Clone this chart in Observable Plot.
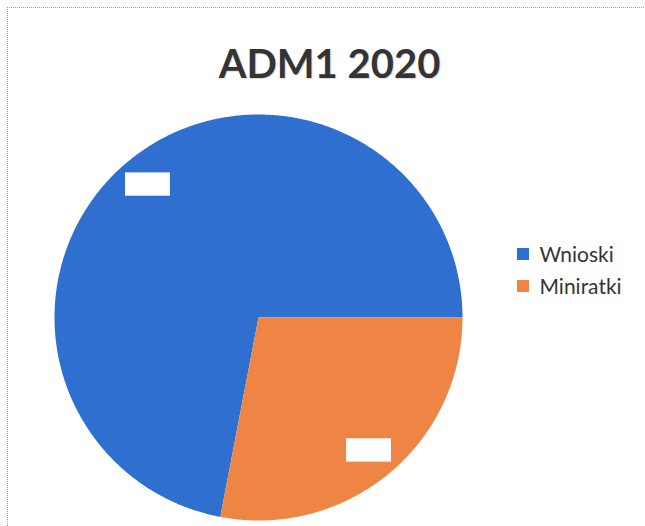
<!DOCTYPE html>
<html><head><meta charset="utf-8">
<script src="https://cdn.jsdelivr.net/npm/d3@7"></script>
<script src="https://cdn.jsdelivr.net/npm/@observablehq/plot@0.6"></script>
<style>
html,body{margin:0;padding:0;background:#fff;}
#wrap{position:relative;width:645px;height:526px;overflow:hidden;background:#fff;font-family:Lato,sans-serif;}
#frame{position:absolute;left:7px;top:7px;width:700px;height:600px;border-left:1px dotted #a0a0a0;border-top:1px dotted #a0a0a0;}
#title{position:absolute;left:7px;width:645px;top:43px;text-align:center;font:700 40px/1 Lato,sans-serif;color:#343434;text-shadow:1px 1px 1px rgba(0,0,0,0.15);}
#chart{position:absolute;left:0;top:0;}
#legend{position:absolute;left:517px;top:241px;width:125px;}
</style>
</head><body>
<div id="wrap">
  <div id="frame"></div>
  <div id="chart"></div>
  <div id="title">ADM1 2020</div>
  <div id="legend"></div>
</div>
<script>
const categories = ["Wnioski", "Miniratki"];
const values = [72, 28];
const colors = ["#2e6fd0", "#ef8544"];
const firstSliceAngle = 190.8; // degrees, clockwise from 12 o'clock

const a0 = firstSliceAngle * Math.PI / 180;
const pie = d3.pie().sort(null).startAngle(a0).endAngle(a0 + 2 * Math.PI);
const arcs = pie(values);

const pts = [];
arcs.forEach((a, i) => {
  const n = Math.ceil((a.endAngle - a.startAngle) / (Math.PI / 360));
  pts.push({name: categories[i], x: 0, y: 0});
  for (let k = 0; k <= n; k++) {
    const t = a.startAngle + (a.endAngle - a.startAngle) * k / n;
    pts.push({name: categories[i], x: Math.sin(t), y: -Math.cos(t)});
  }
});

const labelW = 0.22, labelH = 0.115, labelR = 0.85;
const labels = arcs.map((a, i) => {
  const m = (a.startAngle + a.endAngle) / 2;
  const cx = labelR * Math.sin(m), cy = -labelR * Math.cos(m);
  return {name: categories[i], x1: cx - labelW / 2, x2: cx + labelW / 2, y1: cy - labelH / 2, y2: cy + labelH / 2};
});

const chart = Plot.plot({
  width: 645, height: 526, margin: 0,
  style: {background: "transparent"},
  x: {domain: [-1, 1], range: [54, 462], axis: null},
  y: {domain: [-1, 1], range: [114, 520], axis: null},
  color: {domain: categories, range: colors},
  marks: [
    Plot.line(pts, {x: "x", y: "y", z: "name", fill: "name", stroke: "none"}),
    Plot.rect(labels, {x1: "x1", x2: "x2", y1: "y1", y2: "y2", fill: "white"})
  ]
});
document.getElementById("chart").appendChild(chart);

const leg = Plot.legend({
  color: {domain: categories, range: colors},
  legend: "swatches", swatchSize: 12, columns: 1, className: "leg",
  style: {fontFamily: "Lato, sans-serif", fontSize: "21px", color: "#333", background: "transparent"}
});
document.getElementById("legend").appendChild(leg);
</script>
<style>
#legend div { line-height: 1.2; overflow: visible; }
#legend [class$="-swatch"] { margin-bottom: 6px; }
</style>
</body></html>
